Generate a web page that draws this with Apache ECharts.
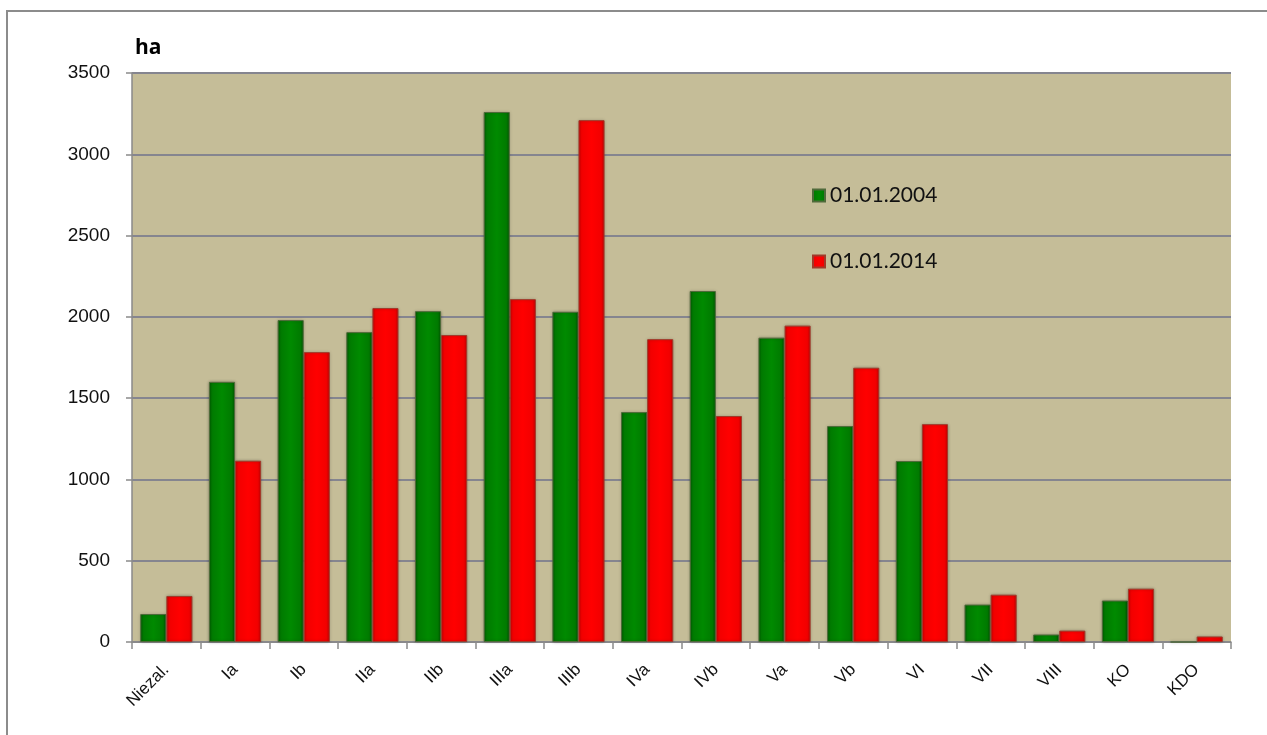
<!DOCTYPE html>
<html>
<head>
<meta charset="utf-8">
<script src="https://cdn.jsdelivr.net/npm/echarts@6/dist/echarts.min.js"></script>
<style>
  html, body { margin: 0; padding: 0; background: #fff; }
  #chart { width: 1267px; height: 735px; }
</style>
</head>
<body>
<div id="chart"></div>
<script>
  // kategorie
  var categories = ['Niezal.', 'Ia', 'Ib', 'IIa', 'IIb', 'IIIa', 'IIIb', 'IVa', 'IVb', 'Va', 'Vb', 'VI', 'VII', 'VIII', 'KO', 'KDO'];
  var seriesNames = ['01.01.2004', '01.01.2014'];
  var values2004 = [172, 1600, 1980, 1906, 2035, 3260, 2031, 1414, 2159, 1872, 1328, 1113, 230, 46, 255, 0];
  var values2014 = [283, 1115, 1783, 2054, 1888, 2109, 3210, 1863, 1390, 1946, 1687, 1340, 291, 70, 328, 34];
  var yTicks = [0, 500, 1000, 1500, 2000, 2500, 3000, 3500];

  var chart = echarts.init(document.getElementById('chart'));

  function barColor(dark, mid, light) {
    return new echarts.graphic.LinearGradient(0, 0, 1, 0, [
      { offset: 0, color: dark },
      { offset: 0.12, color: mid },
      { offset: 0.5, color: light },
      { offset: 0.88, color: mid },
      { offset: 1, color: dark }
    ]);
  }

  var option = {
    animation: false,
    backgroundColor: '#ffffff',
    grid: { left: 132, right: 36, top: 73, bottom: 93 },
    legend: {
      orient: 'vertical',
      left: 807,
      top: 180,
      itemWidth: 12,
      itemHeight: 12,
      itemGap: 45,
      icon: 'rect',
      textStyle: { fontFamily: 'Lato', fontSize: 21, color: '#111' },
      data: seriesNames
    },
    graphic: [
      {
        type: 'rect',
        shape: { x: 7, y: 11, width: 1400, height: 900 },
        style: { fill: 'none', stroke: '#8c8c8c', lineWidth: 2 },
        silent: true,
        z: -1
      },
      {
        type: 'text',
        left: 135,
        top: 38,
        style: { text: 'ha', font: 'bold 21px "Open Sans"', fill: '#000' }
      }
    ],
    xAxis: {
      type: 'category',
      data: categories,
      boundaryGap: true,
      axisLine: { lineStyle: { color: '#8a8a8a', width: 1.5 } },
      axisTick: { show: true, length: 7, lineStyle: { color: '#8a8a8a', width: 1.5 } },
      axisLabel: {
        rotate: 45,
        fontFamily: 'Liberation Sans',
        fontSize: 17,
        color: '#111',
        margin: 25
      },
      splitLine: { show: false }
    },
    yAxis: {
      type: 'value',
      min: yTicks[0],
      max: yTicks[yTicks.length - 1],
      interval: 500,
      axisLine: { show: true, lineStyle: { color: '#8a8a8a', width: 1.5 } },
      axisTick: { show: true, length: 6, lineStyle: { color: '#8a8a8a', width: 1.5 } },
      axisLabel: {
        fontFamily: 'Liberation Sans',
        fontSize: 19,
        color: '#111',
        margin: 22,
        formatter: function (v) { return String(v); }
      },
      splitLine: { show: true, lineStyle: { color: '#85858f', width: 2 } },
      splitArea: { show: true, areaStyle: { color: ['#c5bd98'] } }
    },
    series: [
      {
        name: seriesNames[0],
        type: 'bar',
        data: values2004,
        barGap: '0%',
        barCategoryGap: '24%',
        itemStyle: {
          color: barColor('#005a00', '#007a00', '#008a00'),
          borderColor: '#4f6a3a',
          borderWidth: 1,
          shadowColor: 'rgba(0,0,0,0.25)',
          shadowBlur: 3
        }
      },
      {
        name: seriesNames[1],
        type: 'bar',
        data: values2014,
        itemStyle: {
          color: barColor('#c80000', '#f20000', '#ff0000'),
          borderColor: '#a03a2a',
          borderWidth: 1,
          shadowColor: 'rgba(0,0,0,0.25)',
          shadowBlur: 3
        }
      }
    ]
  };

  chart.setOption(option);
</script>
</body>
</html>
